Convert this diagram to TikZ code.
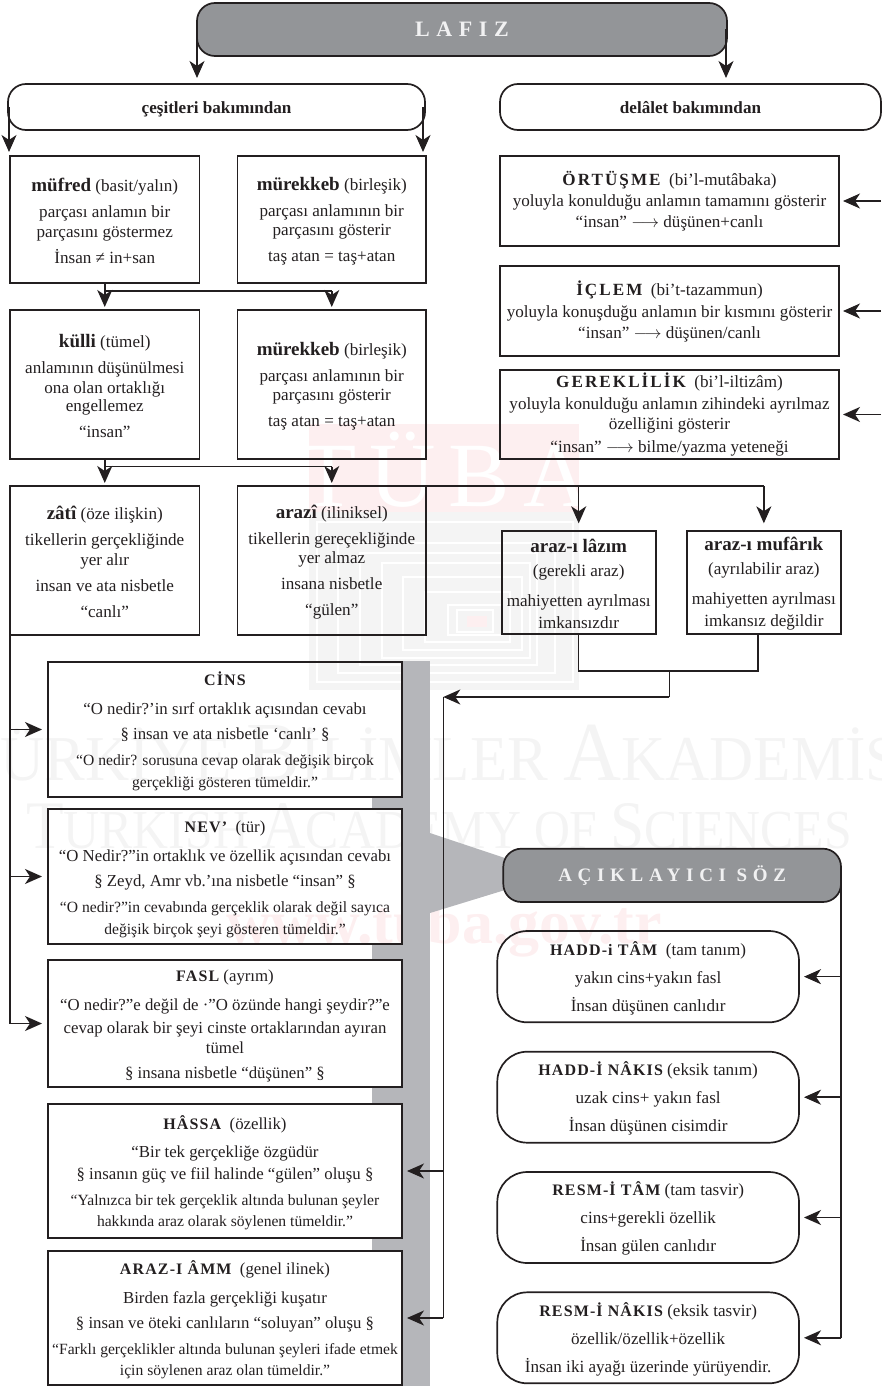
\documentclass[tikz,border=0pt]{standalone}
\usepackage{fontspec}
\setmainfont{Liberation Serif}
\newfontfamily\wideface[LetterSpace=30]{Liberation Serif}
\newfontfamily\medface[LetterSpace=12]{Liberation Serif}
\newfontfamily\semiface[LetterSpace=7]{Liberation Serif}
\newfontfamily\tubaface[LetterSpace=14]{Liberation Serif}
\usetikzlibrary{arrows.meta}
\definecolor{ink}{HTML}{231F20}
\definecolor{bandgray}{HTML}{B5B6BA}
\definecolor{headgray}{HTML}{939598}
\definecolor{headtext}{HTML}{F1F1F2}
\definecolor{wmgray}{HTML}{F4F4F4}
\definecolor{wmpink}{HTML}{FDEFF0}
\newcommand{\hb}[1]{\rule{0pt}{16.5pt}{\fontsize{19}{19.5}\selectfont\bfseries #1}}
\newcommand{\wdh}[1]{{\wideface\bfseries #1}}
\newcommand{\mdh}[1]{\rule{0pt}{15pt}{\medface\bfseries #1}}
\newcommand{\smh}[1]{\rule{0pt}{16.5pt}{\fontsize{16}{19.5}\selectfont\semiface\bfseries #1}}
\newcommand{\defn}[1]{{\fontsize{15.6}{19.5}\selectfont #1}}
\newcommand{\lar}{$\longrightarrow$}
\newcommand{\mybx}[7][]{%
  \pgfmathsetmacro{\cxx}{(#3+#5)/2}\pgfmathsetmacro{\cyy}{(#4+#6)/2}%
  \pgfmathsetmacro{\wdd}{#5-#3}\pgfmathsetmacro{\htt}{#6-#4}%
  \node[boxbase,#1,minimum width=\wdd pt,minimum height=\htt pt] (#2) at (\cxx,\cyy) {#7};}
\tikzset{
  boxbase/.style={draw=ink,line width=1.7pt,inner sep=0pt,outer sep=0pt,align=center,text=ink,
    font=\fontsize{17.1}{19.5}\selectfont},
  midbox/.style={font=\fontsize{16.8}{19.5}\selectfont},
  pillbox/.style={rounded corners=18pt},
  softbox/.style={rounded corners=30pt},
  darkbox/.style={rounded corners=18pt,fill=headgray,text=headtext},
  conn/.style={draw=ink,line width=1.5pt},
  arr/.style={conn,-{Stealth[length=17pt,width=15pt,inset=5pt]}},
}
\begin{document}
\begin{tikzpicture}[x=1pt,y=-1pt]
\useasboundingbox (0,0) rectangle (881,1386);
\begin{scope}
\clip (0,0) rectangle (881,1386);
% watermark
\fill[wmpink] (309,424) rectangle (579,512);
\fill[wmgray] (309,512) rectangle (579,690);
\node[text=white,font=\fontsize{92}{92}\tubaface] (wmtuba) at (445,470) {TÜBA};
\foreach \ax/\ay/\qx/\qy in {50/335/820/815,115/400/765/790,180/430/710/765,245/460/690/745,310/500/665/720,375/545/630/695,445/585/605/675,470/600/580/665}
  \draw[white,line width=2pt] ({300+\ax/3},{410+\ay/3}) rectangle ({300+\qx/3},{410+\qy/3});
\fill[wmpink] (467,616) rectangle (487,627);
\node[anchor=base,text=wmgray,font=\fontsize{64}{64}\selectfont] (wm1) at (436,780)
  {\scalebox{0.955}[1]{{\fontsize{84}{84}\selectfont T}ÜRKİYE {\fontsize{84}{84}\selectfont B}İLİMLER {\fontsize{84}{84}\selectfont A}KADEMİSİ}};
\node[anchor=base,text=wmgray,font=\fontsize{55}{55}\selectfont] (wm2) at (439,848)
  {\scalebox{0.905}[1]{{\fontsize{68}{68}\selectfont T}URKISH {\fontsize{68}{68}\selectfont A}CADEMY OF {\fontsize{68}{68}\selectfont S}CIENCES}};
\node[anchor=base,text=wmpink,font=\fontsize{62}{62}\selectfont\bfseries] (wm3) at (444,943) {www.tuba.gov.tr};
\end{scope}
% gray band
\fill[bandgray] (402,661) rectangle (430,1386);
\fill[bandgray] (372,797) rectangle (403,809);
\fill[bandgray] (372,944) rectangle (403,960);
\fill[bandgray] (372,1087) rectangle (403,1104);
\fill[bandgray] (372,1238) rectangle (403,1251);
\fill[bandgray] (430,833) -- (505,858) -- (505,890) -- (430,913) -- cycle;
% heads
\mybx[darkbox]{lafiz}{197}{3}{727}{56}{\raisebox{-7.5pt}[0pt][0pt]{\fontsize{22}{24}\selectfont\wdh{LAFIZ}}}
\mybx[pillbox]{cesit}{8}{84}{425}{130}{\raisebox{-6.5pt}[0pt][0pt]{\textbf{çeşitleri bakımından}}}
\mybx[pillbox]{delalet}{500}{84}{881}{130}{\raisebox{-6.5pt}[0pt][0pt]{\textbf{delâlet bakımından}}}
% left column
\mybx{mufred}{10}{156}{199.5}{283}{\hb{müfred} (basit/yalın)\\[6.5pt] parçası anlamın bir\\ parçasını göstermez\\[6.5pt] İnsan ≠ in+san}
\mybx{murekkeba}{237.5}{156}{426}{283}{\hb{mürekkeb} (birleşik)\\[6.5pt] parçası anlamının bir\\ parçasını gösterir\\[6.5pt] taş atan = taş+atan}
\mybx{kulli}{10}{310}{199.5}{459}{\hb{külli} (tümel)\\[6.5pt] anlamının düşünülmesi\\ ona olan ortaklığı\\[-1pt] engellemez\\[6.5pt] “insan”}
\mybx{murekkebb}{237.5}{310}{426}{459}{\hb{mürekkeb} (birleşik)\\[6.5pt] parçası anlamının bir\\ parçasını gösterir\\[6.5pt] taş atan = taş+atan}
\mybx{zati}{10}{486}{199.5}{635}{\hb{zâtî} (öze ilişkin)\\[6.5pt] tikellerin gerçekliğinde\\ yer alır\\[6.5pt] insan ve ata nisbetle\\[6.5pt] “canlı”}
\mybx{arazi}{237.5}{486}{426}{635}{\hb{arazî} (iliniksel)\\[6.5pt] tikellerin gereçekliğinde\\ yer almaz\\[6.5pt] insana nisbetle\\[6.5pt] “gülen”}
% right column
\mybx{ortusme}{500}{156}{839}{246}{\mdh{ÖRTÜŞME} \ (bi’l-mutâbaka)\\[2pt] yoluyla konulduğu anlamın tamamını gösterir\\[1.5pt] “insan” \lar\ düşünen+canlı}
\mybx{iclem}{500}{266}{839}{356}{\mdh{İÇLEM} \ (bi’t-tazammun)\\[2.5pt] yoluyla konuşduğu anlamın bir kısmını gösterir\\[1.5pt] “insan” \lar\ düşünen/canlı}
\mybx{gerek}{500}{370}{839}{459}{\mdh{GEREKLİLİK} \ (bi’l-iltizâm)\\[2pt] yoluyla konulduğu anlamın zihindeki ayrılmaz\\[1pt] özelliğini gösterir\\[3pt] “insan” \lar\ bilme/yazma yeteneği}
\mybx{lazim}{501.7}{531.3}{655.7}{633.7}{\hb{araz-ı lâzım}\\[4.5pt] (gerekli araz)\\[10.5pt] mahiyetten ayrılması\\[2.5pt] imkansızdır}
\mybx{mufarik}{686.7}{531.3}{841}{633.7}{\hb{araz-ı mufârık}\\[4.5pt] (ayrılabilir araz)\\[10.5pt] mahiyetten ayrılması\\[2.5pt] imkansız değildir}
% middle boxes
\mybx[midbox]{cins}{48}{662}{402}{797}{\smh{CİNS}\\[9.5pt] “O nedir?’in sırf ortaklık açısından cevabı\\[5.5pt] § insan ve ata nisbetle ‘canlı’ §\\[6.5pt] \defn{“O nedir? sorusuna cevap olarak değişik birçok}\\[2.5pt] \defn{gerçekliği gösteren tümeldir.”}}
\mybx[midbox]{nev}{48}{809}{402}{944}{\smh{NEV’} \ (tür)\\[9.5pt] “O Nedir?”in ortaklık ve özellik açısından cevabı\\[5.5pt] § Zeyd, Amr vb.’ına nisbetle “insan” §\\[6.5pt] \defn{“O nedir?”in cevabında gerçeklik olarak değil sayıca}\\[2.5pt] \defn{değişik birçok şeyi gösteren tümeldir.”}}
\mybx[midbox]{fasl}{48}{960}{402}{1087}{\smh{FASL} (ayrım)\\[9.5pt] “O nedir?”e değil de ·”O özünde hangi şeydir?”e\\[3.5pt] cevap olarak bir şeyi cinste ortaklarından ayıran\\[0.5pt] tümel\\[5.5pt] § insana nisbetle “düşünen” §}
\mybx[midbox]{hassa}{48}{1104}{402}{1238}{\smh{HÂSSA} \ (özellik)\\[8.5pt] “Bir tek gerçekliğe özgüdür\\[2.5pt] § insanın güç ve fiil halinde “gülen” oluşu §\\[6.5pt] \defn{“Yalnızca bir tek gerçeklik altında bulunan şeyler}\\[1.5pt] \defn{hakkında araz olarak söylenen tümeldir.”}}
\mybx[midbox]{arazamm}{48}{1251}{402}{1385}{\smh{ARAZ-I ÂMM} \ (genel ilinek)\\[9.5pt] Birden fazla gerçekliği kuşatır\\[5.5pt] § insan ve öteki canlıların “soluyan” oluşu §\\[6.5pt] \defn{“Farklı gerçeklikler altında bulunan şeyleri ifade etmek}\\[1.5pt] \defn{için söylenen araz olan tümeldir.”}}
% lower right
\mybx[darkbox]{acik}{503.3}{848.7}{841}{902}{\raisebox{-6.5pt}[0pt][0pt]{\fontsize{19}{22}\selectfont\wdh{AÇIKLAYICI SÖZ}}}
\mybx[softbox]{hadta}{497.3}{931}{799}{1022.3}{\smh{HADD-i TÂM} \ (tam tanım)\\[8.5pt] yakın cins+yakın fasl\\[8.5pt] İnsan düşünen canlıdır}
\mybx[softbox]{hadna}{497.3}{1051.7}{799}{1142.7}{\smh{HADD-İ NÂKIS} (eksik tanım)\\[8.5pt] uzak cins+ yakın fasl\\[8.5pt] İnsan düşünen cisimdir}
\mybx[softbox]{resta}{497.3}{1172}{799}{1263}{\smh{RESM-İ TÂM} (tam tasvir)\\[8.5pt] cins+gerekli özellik\\[8.5pt] İnsan gülen canlıdır}
\mybx[softbox]{resna}{497.3}{1292.3}{799}{1383.3}{\smh{RESM-İ NÂKIS} (eksik tasvir)\\[8.5pt] özellik/özellik+özellik\\[8.5pt] İnsan iki ayağı üzerinde yürüyendir.}
% connectors: top
\draw[arr,shorten >=6pt] (lafiz.west) -- (lafiz.west |- cesit.north);
\draw[arr,shorten >=6pt] ([xshift=-1pt]lafiz.east) -- ([xshift=-1pt]lafiz.east |- delalet.north);
\draw[arr,shorten >=4pt] ([xshift=1pt]cesit.west) -- ([xshift=1pt]cesit.west |- mufred.north);
\draw[arr,shorten >=4pt] ([xshift=-2pt]cesit.east) -- ([xshift=-2pt]cesit.east |- murekkeba.north);
% first splits
\coordinate (sa) at (104.75,291);
\draw[arr,shorten >=3pt] (mufred.south) -- (kulli.north);
\draw[conn] (sa) -- (sa -| murekkebb.north);
\draw[arr,shorten >=3pt] (sa -| murekkebb.north) -- (murekkebb.north);
\coordinate (sb) at (104.75,466.5);
\draw[arr,shorten >=3pt] (kulli.south) -- (zati.north);
\draw[conn] (sb) -- (sb -| arazi.north);
\draw[arr,shorten >=3pt] (sb -| arazi.north) -- (arazi.north);
% arazi to right
\draw[conn] (arazi.north east) -- (mufarik.north |- arazi.north);
\draw[arr,shorten >=8pt] (lazim.north |- arazi.north) -- (lazim.north);
\draw[arr,shorten >=8pt] (mufarik.north |- arazi.north) -- (mufarik.north);
% left trunk
\draw[conn] (zati.south west) -- (zati.south west |- fasl.west);
\draw[arr,shorten >=6pt] (zati.south west |- cins.west) -- (cins.west);
\draw[arr,shorten >=6pt] (zati.south west |- nev.west) -- (nev.west);
\draw[arr,shorten >=6pt] (zati.south west |- fasl.west) -- (fasl.west);
% right arrows
\coordinate (edge) at (881,0);
\draw[arr,shorten >=4pt] (edge |- ortusme.east) -- (ortusme.east);
\draw[arr,shorten >=4pt] (edge |- iclem.east) -- (iclem.east);
\draw[arr,shorten >=4pt] (edge |- gerek.east) -- (gerek.east);
% araz merge
\coordinate (ma) at (758,633.7);
\coordinate (jn) at (669.3,671);
\coordinate (kn) at (669.3,697);
\coordinate (vn) at (443.3,697);
\draw[conn] (lazim.south) -- (lazim.south |- jn) -- (ma |- jn) -- (ma);
\draw[conn] (jn) -- (kn);
\draw[arr] (kn) -- (vn);
\draw[conn] (vn) -- (vn |- arazamm.east);
\draw[arr,shorten >=5pt] (vn |- hassa.east) -- (hassa.east);
\draw[arr,shorten >=5pt] (vn |- arazamm.east) -- (arazamm.east);
% aciklayici
\draw[conn] (acik.east) -- (acik.east |- resna.east);
\draw[arr,shorten >=5pt] (acik.east |- hadta.east) -- (hadta.east);
\draw[arr,shorten >=5pt] (acik.east |- hadna.east) -- (hadna.east);
\draw[arr,shorten >=5pt] (acik.east |- resta.east) -- (resta.east);
\draw[arr,shorten >=5pt] (acik.east |- resna.east) -- (resna.east);
\end{tikzpicture}
\end{document}
